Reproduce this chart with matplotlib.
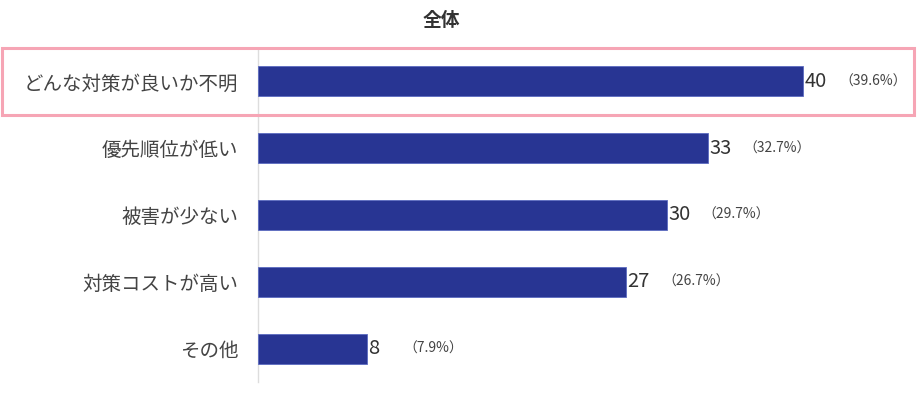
import matplotlib
matplotlib.use("Agg")
import matplotlib.pyplot as plt
import matplotlib.transforms as mtransforms
from matplotlib.patches import Rectangle

plt.rcParams['font.family'] = ['Noto Sans CJK JP', 'DejaVu Sans']

title = "全体"
categories = ["どんな対策が良いか不明", "優先順位が低い", "被害が少ない", "対策コストが高い", "その他"]
counts = [40, 33, 30, 27, 8]
percents = [39.6, 32.7, 29.7, 26.7, 7.9]

W, H = 922, 394
fig = plt.figure(figsize=(W / 100, H / 100), dpi=100)
ax_left, ax_right = 258, 898
ax_top, ax_bottom = 48, 382
ax = fig.add_axes([ax_left / W, 1 - ax_bottom / H, (ax_right - ax_left) / W, (ax_bottom - ax_top) / H])

xmax = (ax_right - ax_left) / 13.625
ypos = list(range(len(categories)))
ax.barh(ypos, counts, height=0.45, color="#283593", edgecolor="#5c6bc0", linewidth=0.6, zorder=3)
ax.set_xlim(0, xmax)
ax.set_ylim(len(categories) - 0.5, -0.5)

for s in ["top", "right", "bottom"]:
    ax.spines[s].set_visible(False)
ax.spines["left"].set_color("#dddddd")
ax.spines["left"].set_linewidth(1)
ax.set_xticks([])
ax.set_yticks(ypos)
ax.set_yticklabels(categories, fontsize=14, color="#444444")
ax.tick_params(axis="y", length=0, pad=14.2)

for y, c, p in zip(ypos, counts, percents):
    ax.annotate(str(c), (c, y), xytext=(1, 0), textcoords="offset points",
                ha="left", va="center", fontsize=14.5, color="#333333")
    ax.annotate(f"（{p}%）", (c, y), xytext=(26, 0), textcoords="offset points",
                ha="left", va="center", fontsize=10, color="#444444")

# highlight box around first row
trans = mtransforms.blended_transform_factory(fig.transFigure, ax.transData)
rect = Rectangle((2 / W, -0.5), (914 - 2) / W, 1.0, transform=trans,
                 fill=False, edgecolor="#f6a5b5", linewidth=2.2, clip_on=False, zorder=5)
ax.add_patch(rect)

fig.text(441 / W, 1 - 20 / H, title, ha="center", va="center", fontsize=13.5,
         fontweight="bold", color="#333333")

fig.savefig("out.png", dpi=100)
